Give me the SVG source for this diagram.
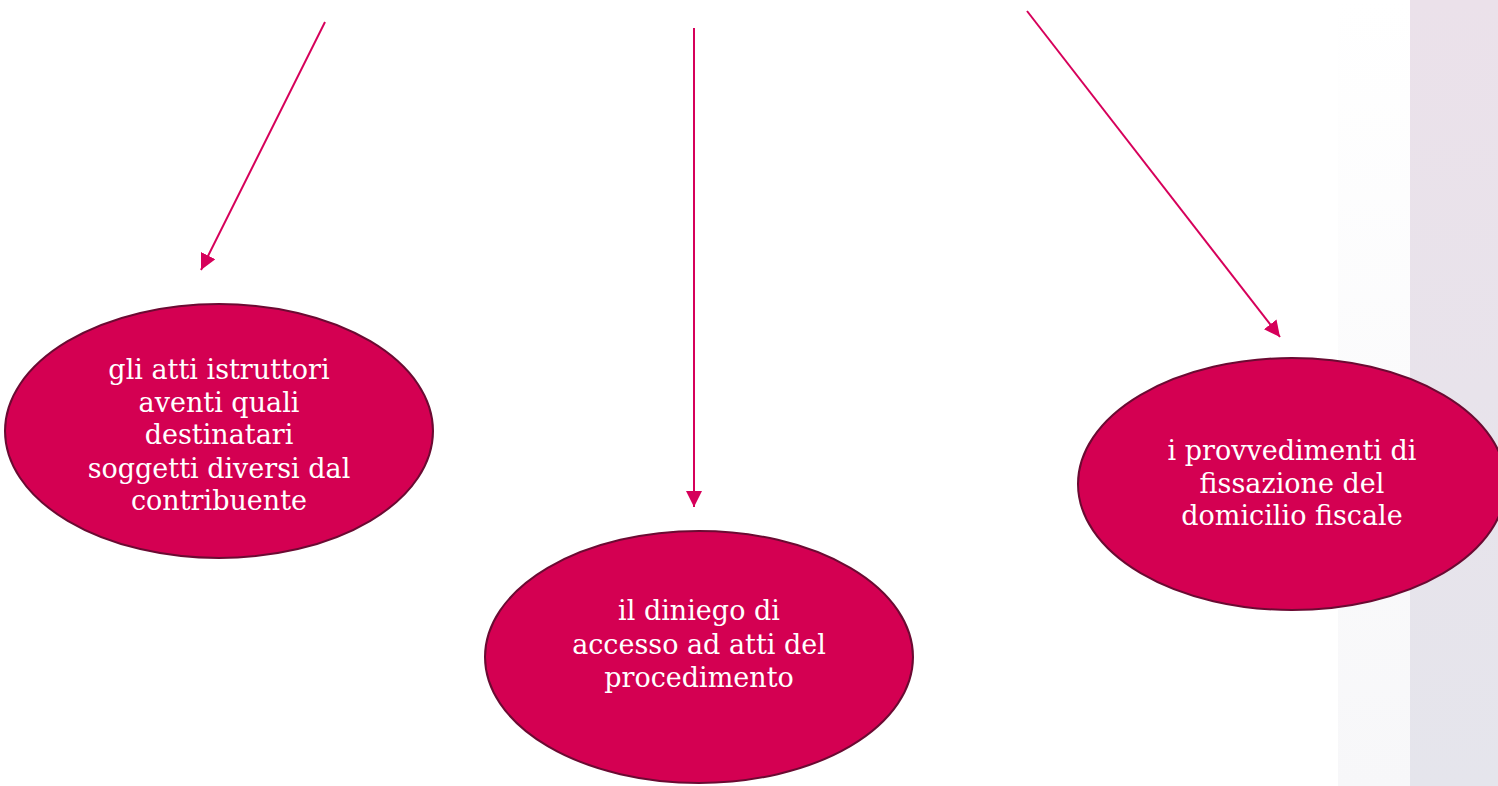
<svg xmlns="http://www.w3.org/2000/svg" width="1498" height="786" viewBox="0 0 1498 786">
<style>
.node ellipse{fill:#d40052;stroke:#6b0a32;stroke-width:2}
.node text{fill:#ffffff;font-family:"DejaVu Serif","Liberation Serif",serif;font-size:27px;text-anchor:middle}
.edge{stroke:#d6005a;stroke-width:2;fill:none}
</style>
<defs>
<linearGradient id="bgA" x1="0" y1="0" x2="0" y2="1"><stop offset="0" stop-color="#ffffff"/><stop offset="1" stop-color="#f7f7f9"/></linearGradient>
<linearGradient id="bgB" x1="0" y1="0" x2="0" y2="1"><stop offset="0" stop-color="#ebe1ea"/><stop offset="1" stop-color="#e5e5ec"/></linearGradient>
<marker id="ah" viewBox="0 0 10 10" refX="10" refY="5" markerWidth="8" markerHeight="8" orient="auto" markerUnits="strokeWidth"><path d="M0,0 L10,5 L0,10 z" fill="#d6005a"/></marker>
</defs>
<rect x="0" y="0" width="1498" height="786" fill="#ffffff"/>
<rect x="1338" y="0" width="72" height="786" fill="url(#bgA)"/>
<rect x="1410" y="0" width="88" height="786" fill="url(#bgB)"/>
<g id="connectors">
<line class="edge" x1="325" y1="22" x2="201" y2="270" marker-end="url(#ah)"/>
<line class="edge" x1="694" y1="28" x2="694" y2="507" marker-end="url(#ah)"/>
<line class="edge" x1="1027" y1="11" x2="1280" y2="337" marker-end="url(#ah)"/>
</g>
<g id="node1" class="node">
<ellipse cx="219" cy="431" rx="214" ry="127"/>
<text x="219" y="379">gli atti istruttori</text>
<text x="219" y="412">aventi quali</text>
<text x="219" y="444">destinatari</text>
<text x="219" y="478">soggetti diversi dal</text>
<text x="219" y="510">contribuente</text>
</g>
<g id="node2" class="node">
<ellipse cx="699" cy="657" rx="214" ry="126"/>
<text x="699" y="620">il diniego di</text>
<text x="699" y="654">accesso ad atti del</text>
<text x="699" y="687">procedimento</text>
</g>
<g id="node3" class="node">
<ellipse cx="1292" cy="484" rx="214" ry="126"/>
<text x="1292" y="460">i provvedimenti di</text>
<text x="1292" y="493">fissazione del</text>
<text x="1292" y="525">domicilio fiscale</text>
</g>
</svg>
